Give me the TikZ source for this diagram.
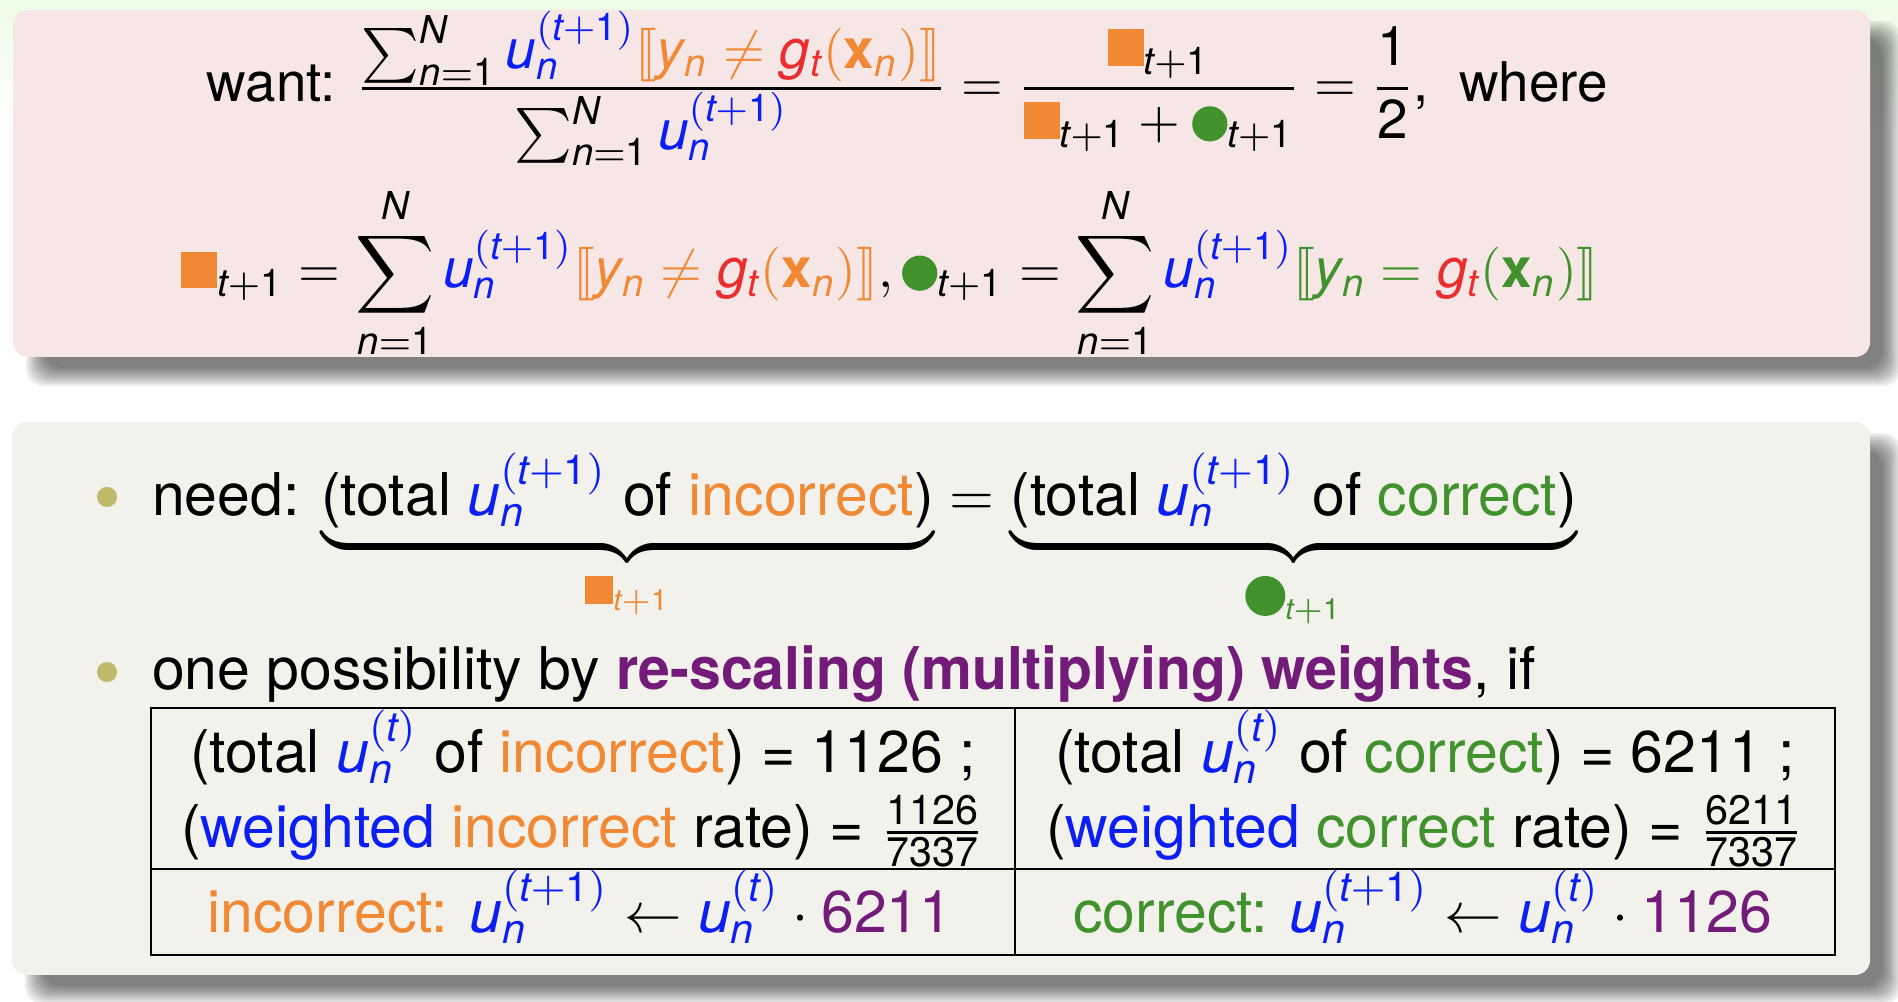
\documentclass[tikz,border=0pt,11pt]{standalone}
\usepackage{amsmath}
\usepackage{amssymb}
\usepackage{stmaryrd}
\usepackage{mathspec}
\setmainfont{TeX Gyre Heros}
\setmathsfont(Digits,Latin){TeX Gyre Heros}
\setmathrm{TeX Gyre Heros}

\definecolor{orng}{RGB}{240,136,52}
\definecolor{rd}{RGB}{235,45,45}
\definecolor{ublue}{RGB}{10,30,245}
\definecolor{grn}{RGB}{65,145,45}
\definecolor{purp}{RGB}{115,27,120}
\definecolor{bulletolive}{RGB}{192,184,106}
\definecolor{topfill}{RGB}{246,230,230}
\definecolor{botfill}{RGB}{242,241,235}
\definecolor{topgreen}{RGB}{236,252,230}

\newcommand{\uwt}[1]{\textcolor{ublue}{u_n^{#1}}}
\newcommand{\incsq}[1][7.4pt]{\textcolor{orng}{\rule{#1}{#1}}}
\newcommand{\cordot}[1][7.2pt]{\textcolor{grn}{\tikz[baseline={(0,-0.42*#1)}]\fill (0,0) circle (0.5*#1);}}

\begin{document}
\begin{tikzpicture}[
    every node/.append style={font=\fontsize{11.2}{13.5}\selectfont},
    box/.style={rounded corners=0.1cm},
    boxshadow/.style={fill=black,opacity=0.07,rounded corners=0.12cm},
    txt/.style={anchor=base west,inner sep=0pt},
    toptxt/.style={txt,scale=0.93,transform shape},
    cell/.style={anchor=base,inner sep=0pt},
    dot/.style={circle,fill=bulletolive,inner sep=0pt,minimum size=0.134cm}
]

    \useasboundingbox (0,0) rectangle (12.681,-6.694);
    \fill[white] (0,0) rectangle (12.681,-6.694);
    \shade[top color=topgreen,bottom color=white] (0,0) rectangle (12.681,-0.9);

    % soft shadows
    \foreach \k in {-4,...,4} {
        \fill[boxshadow] (0.234+0.015*\k,-0.201-0.015*\k) rectangle (12.641-0.015*\k,-2.519+0.015*\k);
        \fill[boxshadow] (0.227+0.015*\k,-2.953-0.015*\k) rectangle (12.641-0.015*\k,-6.648+0.015*\k);
    }

    % boxes
    \fill[box,topfill] (0.087,-0.067) rectangle (12.494,-2.385);
    \fill[box,botfill] (0.080,-2.819) rectangle (12.494,-6.514);

    % top box
    \node[toptxt] (want) at (1.376,-0.681) {want: $
        \frac{\textstyle\sum_{n=1}^{N} \uwt{(t+1)}\textcolor{orng}{\llbracket y_n \neq \textcolor{rd}{g_t}(\mathbf{x}_n)\rrbracket}}{\textstyle\sum_{n=1}^{N} \uwt{(t+1)}}
        = \dfrac{\incsq_{t+1}}{\incsq_{t+1}+\cordot_{t+1}} = \dfrac{1}{2}$,\ \ where};
    \node[toptxt] (sums) at (1.203,-1.924) {$\displaystyle
        \incsq_{t+1} = \sum_{n=1}^{N} \uwt{(t+1)}\textcolor{orng}{\llbracket y_n \neq \textcolor{rd}{g_t}(\mathbf{x}_n)\rrbracket},
        \cordot_{t+1} = \sum_{n=1}^{N} \uwt{(t+1)}\textcolor{grn}{\llbracket y_n = \textcolor{rd}{g_t}(\mathbf{x}_n)\rrbracket}$};

    % bottom box
    \node[dot] (b1) at (0.715,-3.320) {};
    \node[txt] (need) at (1.009,-3.441) {need: $
        \underbrace{\text{(total $\uwt{(t+1)}$ of \textcolor{orng}{incorrect})}}_{\textcolor{orng}{\incsq[5.4pt]_{t+1}}} =
        \underbrace{\text{(total $\uwt{(t+1)}$ of \textcolor{grn}{correct})}}_{\textcolor{grn}{\cordot[7.6pt]_{t+1}}}$};
    \node[dot] (b2) at (0.715,-4.490) {};
    \node[txt] (poss) at (1.009,-4.610) {one possibility by \textcolor{purp}{\scalebox{0.97}[1]{\textbf{re-scaling (multiplying) weights}}}, if};

    % table
    \coordinate (tNW) at (1.009,-4.730);
    \coordinate (tSE) at (12.260,-6.380);
    \coordinate (tMidN) at (6.781,-4.730);
    \coordinate (tMidS) at (6.781,-6.380);
    \coordinate (tRowW) at (1.009,-5.806);
    \coordinate (tRowE) at (12.260,-5.806);
    \draw[thin] (tNW) rectangle (tSE);
    \draw[thin] (tMidN) -- (tMidS);
    \draw[thin] (tRowW) -- (tRowE);

    \node[cell] (totinc) at (3.895,-5.158) {(total $\uwt{(t)}$ of \textcolor{orng}{incorrect}) = 1126 ;};
    \node[cell] (rateinc) at (3.895,-5.659) {(\textcolor{ublue}{weighted} \textcolor{orng}{incorrect} rate) = $\frac{1126}{7337}$};
    \node[cell] (totcor) at (9.520,-5.158) {(total $\uwt{(t)}$ of \textcolor{grn}{correct}) = 6211 ;};
    \node[cell] (ratecor) at (9.520,-5.659) {(\textcolor{ublue}{weighted} \textcolor{grn}{correct} rate) = $\frac{6211}{7337}$};
    \node[cell] (updinc) at (3.875,-6.227) {\textcolor{orng}{incorrect:} $\uwt{(t+1)} \leftarrow \uwt{(t)}\cdot\textcolor{purp}{6211}$};
    \node[cell] (updcor) at (9.507,-6.227) {\textcolor{grn}{correct:} $\uwt{(t+1)} \leftarrow \uwt{(t)}\cdot\textcolor{purp}{1126}$};
\end{tikzpicture}
\end{document}
